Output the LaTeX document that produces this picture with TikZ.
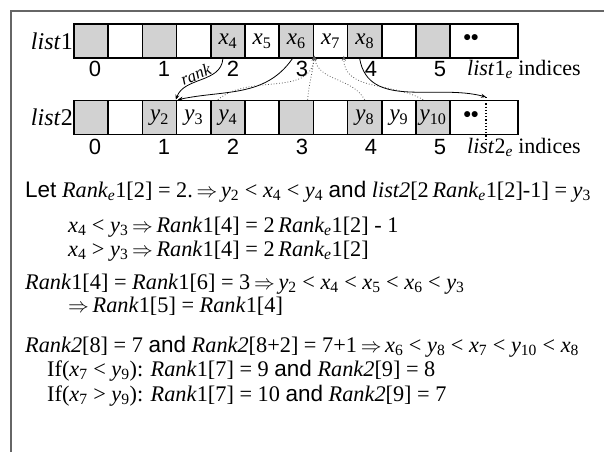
\documentclass[tikz,border=0pt]{standalone}
\usepackage{fontspec}
\setmainfont{Liberation Serif}
\newfontfamily\hv{Liberation Sans}
\usetikzlibrary{arrows.meta}
\newcommand\IT[1]{\textit{#1}}
\newcommand\sbs[1]{\textsubscript{#1}}
\newcommand\RA{\,$\Rightarrow$\,}
\newcommand\SF[1]{{\hv\fontsize{22.5}{22.5}\selectfont #1}}
\begin{document}
\begin{tikzpicture}[x=1pt,y=-1pt,
  cell/.style={draw,line width=1.6pt,minimum width=34.2pt,minimum height=34pt,inner sep=0pt,font=\fontsize{23}{23}\selectfont},
  gcell/.style={cell,fill=gray!35},
  idx/.style={font=\hv\fontsize{22}{22}\selectfont,inner sep=0pt},
  lbl/.style={font=\fontsize{24}{24}\selectfont,inner sep=0pt},
  elbl/.style={font=\fontsize{22}{22}\selectfont,inner sep=0pt},
  txt/.style={font=\fontsize{22.3}{22.3}\selectfont,inner sep=0pt,anchor=base west},
  dots/.style={font=\hv\fontsize{21}{21}\selectfont\bfseries,inner sep=0pt},
  solidarr/.style={draw,line width=0.8pt,-{Stealth[length=5pt,width=4pt]}},
  dotarr/.style={draw,line width=0.8pt,dotted,gray!70!black,-{Stealth[length=5pt,width=4pt]}}]
\useasboundingbox (0,0) rectangle (604,452);
\draw[line width=1.3pt,gray!80!black] (11,452) -- (11,11) -- (604,11);
% list1
\foreach \i/\t in {0/,1/,2/,3/,4/\IT{x}\sbs{4},5/\IT{x}\sbs{5},6/\IT{x}\sbs{6},7/\IT{x}\sbs{7},8/\IT{x}\sbs{8},9/,10/}{
  \pgfmathtruncatemacro\r{mod(\i,2)}
  \ifnum\r=0
    \node[gcell] (a\i) at ({91.1+34.2*\i},41) {\t};
  \else
    \node[cell] (a\i) at ({91.1+34.2*\i},41) {\t};
  \fi}
\node[cell,minimum width=68pt] (a11) at (484,41) {};
\node[dots] (d1) at (471,40) {••};
% list2
\foreach \i/\t in {0/,1/,2/\IT{y}\sbs{2},3/\IT{y}\sbs{3},4/\IT{y}\sbs{4},5/,6/,7/,8/\IT{y}\sbs{8},9/\IT{y}\sbs{9},10/\IT{y}\sbs{10}}{
  \pgfmathtruncatemacro\r{mod(\i,2)}
  \ifnum\r=0
    \node[gcell] (b\i) at ({91.1+34.2*\i},117.5) {\t};
  \else
    \node[cell] (b\i) at ({91.1+34.2*\i},117.5) {\t};
  \fi}
\node[cell,minimum width=68pt] (b11) at (484,117.5) {};
\node[dots] (d2) at (471,116.5) {••};
% labels
\node[lbl,anchor=east] (L1) at (73,41) {\IT{list}1};
\node[lbl,anchor=east] (L2) at (73,117.5) {\IT{list}2};
\foreach \k in {0,...,5}{
  \node[idx] (i\k) at ({95+69*\k},69) {\k};
  \node[idx] (j\k) at ({95+69*\k},147) {\k};}
\node[elbl,anchor=west] (E1) at (467,69) {\IT{list}1\sbs{\IT{e}} indices};
\node[elbl,anchor=west] (E2) at (467,147) {\IT{list}2\sbs{\IT{e}} indices};
% connectors
\coordinate (p1) at (486,97);
\coordinate (p2) at (486,141);
\draw[line width=1.2pt,dotted] (p1) -- (p2);
\path[solidarr] ([xshift=-5pt]a4.south) to[out=-95,in=70] node[pos=0.55,sloped,above=1pt,inner sep=0pt,font=\itshape\fontsize{17}{17}\selectfont] {rank} (b3.north west);
\path[solidarr] ([xshift=-4pt]a6.south) to[out=-125,in=12] ([xshift=2pt]b3.north west);
\path[dotarr] ([xshift=-10pt]b4.north) to[out=40,in=-95] ([yshift=3pt]a6.south east);
\path[dotarr] ([xshift=-5pt]b7.north west) to[out=85,in=-95] ([yshift=3pt]a6.south east);
\path[dotarr] (b8.north) to[out=120,in=-80] ([yshift=3pt]a6.south east);
\path[dotarr] ([xshift=-10pt]b10.north) to[out=150,in=-90] ([xshift=-3pt,yshift=3pt]a8.south west);
\path[solidarr] ([xshift=-5pt]a8.south) to[out=-80,in=165] (p1);
% text
\node[txt] (t1) at (25,197) {\SF{Let} \IT{Rank\sbs{e}}1[2] = 2.\RA\IT{y}\sbs{2} < \IT{x}\sbs{4} < \IT{y}\sbs{4} \SF{and} \IT{list2}[2\,\IT{Rank\sbs{e}}1[2]-1] = \IT{y}\sbs{3}};
\node[txt] (t2) at (68,232) {\IT{x}\sbs{4} < \IT{y}\sbs{3}\RA\IT{Rank}1[4] = 2\,\IT{Rank\sbs{e}}1[2] - 1};
\node[txt] (t3) at (68,256) {\IT{x}\sbs{4} > \IT{y}\sbs{3}\RA\IT{Rank}1[4] = 2\,\IT{Rank\sbs{e}}1[2]};
\node[txt] (t4) at (25,289) {\IT{Rank}1[4] = \IT{Rank}1[6] = 3\RA\IT{y}\sbs{2} < \IT{x}\sbs{4} < \IT{x}\sbs{5} < \IT{x}\sbs{6} < \IT{y}\sbs{3}};
\node[txt] (t5) at (68,312) {$\Rightarrow$\,\IT{Rank}1[5] = \IT{Rank}1[4]};
\node[txt] (t6) at (25,352) {\IT{Rank2}[8] = 7 \SF{and} \IT{Rank2}[8+2] = 7+1\RA\IT{x}\sbs{6} < \IT{y}\sbs{8} < \IT{x}\sbs{7} < \IT{y}\sbs{10} < \IT{x}\sbs{8}};
\node[txt] (t7) at (47,376) {If(\IT{x}\sbs{7} < \IT{y}\sbs{9}): \IT{Rank}1[7] = 9 \SF{and} \IT{Rank2}[9] = 8};
\node[txt] (t8) at (47,401) {If(\IT{x}\sbs{7} > \IT{y}\sbs{9}): \IT{Rank}1[7] = 10 \SF{and} \IT{Rank2}[9] = 7};
\end{tikzpicture}
\end{document}
